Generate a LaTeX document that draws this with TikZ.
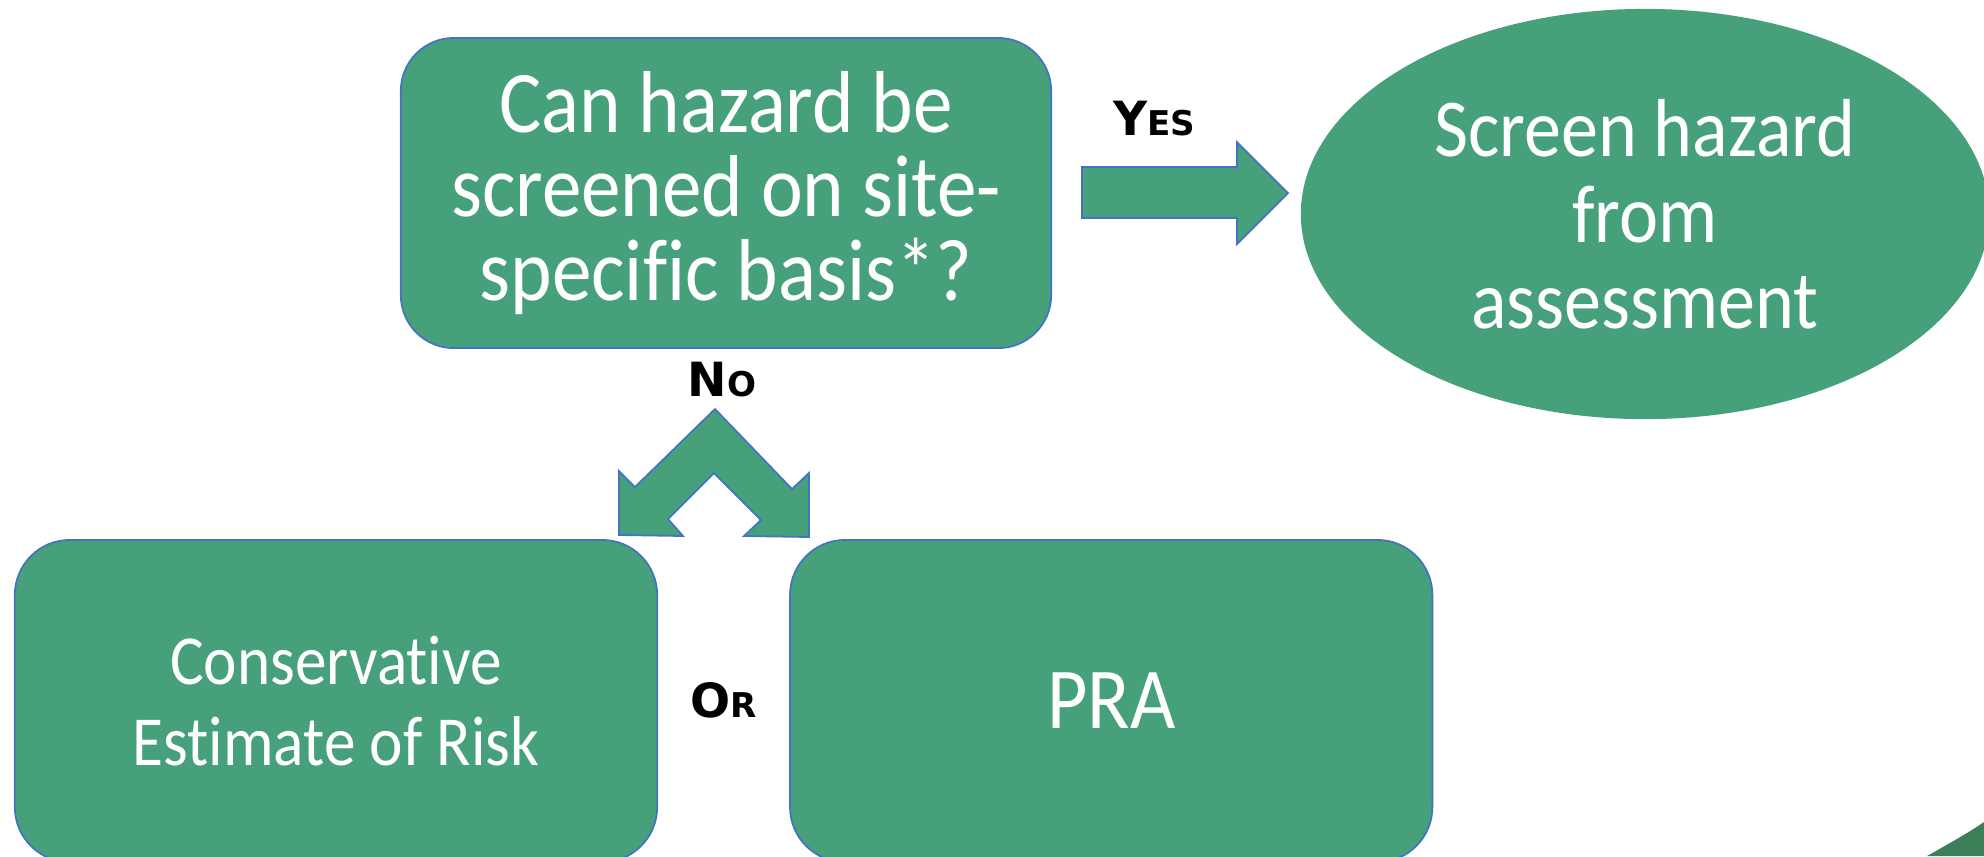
\documentclass[tikz,border=0pt]{standalone}
\usepackage{fontspec}
\setmainfont[FakeStretch=0.9,Ligatures={NoCommon,NoRare,NoContextual}]{Carlito}
\newfontfamily\lblfont{DejaVu Sans}
\usetikzlibrary{shapes.geometric,positioning}
\definecolor{boxgreen}{HTML}{46A17B}
\definecolor{edgeblue}{HTML}{4472C4}
\definecolor{cornergreen}{HTML}{3A7F57}
% big capital + small capitals
\newcommand{\fakesc}[2]{{\fontsize{13.4}{14}\selectfont #1}{\fontsize{9.7}{10}\selectfont #2}}

\begin{document}
\begin{tikzpicture}[x=0.01cm,y=-0.01cm,
      box_q/.style={
         rectangle,
         rounded corners=0.53cm,
         draw=edgeblue,
         fill=boxgreen,
         line width=0.5pt,
         text=white,
         align=center,
         inner sep=0pt,
         minimum width=6.5cm,
         minimum height=3.1cm,
         font=\fontsize{25}{24}\selectfont},
      box_opt/.style={
         box_q,
         rounded corners=0.55cm,
         minimum width=6.42cm,
         minimum height=3.22cm,
         font=\fontsize{20}{22.8}\selectfont},
      ell_end/.style={
         ellipse,
         fill=boxgreen,
         text=white,
         align=center,
         inner sep=0pt,
         minimum width=6.88cm,
         minimum height=4.1cm,
         font=\fontsize{23.4}{24.5}\selectfont},
      lbl_sc/.style={
         anchor=base,
         inner sep=0pt,
         font=\lblfont\bfseries},
      blk_arrow/.style={
         draw=edgeblue,
         fill=boxgreen,
         line width=0.5pt,
         line join=miter}
]
      \useasboundingbox (0,0) rectangle (1984,856);

      % corner of a shape outside the page
      \fill[cornergreen] (1927,856) .. controls (1950,843) and (1968,833) .. (1984,822) -- (1984,856) -- cycle;

      %question
      \node[box_q] (q) at (726,193) {Can hazard be\\screened on site-\\specific basis*?};
      \node[ell_end] (scr) at (1645,214) {Screen hazard\\from\\assessment};

      %options
      \node[box_opt] (cons) at (336,701) {Conservative\\Estimate of Risk};
      \node[box_opt,right=1.31cm of cons,font=\fontsize{24.7}{26}\selectfont] (pra) {PRA};

      % block arrows
      \draw[blk_arrow] (1082,167) -- (1237,167) -- (1237,142) -- (1288,193)
        -- (1237,244) -- (1237,218) -- (1082,218) -- cycle;
      \draw[blk_arrow] (715,409) -- (792,489) -- (809,473) -- (809,537) -- (744,536)
        -- (761,520) -- (714,473) -- (668,519) -- (683,536) -- (619,535)
        -- (619,471) -- (635,487) -- cycle;

      \node[lbl_sc] (yes) at (1154,135) {\fakesc{Y}{ES}};
      \node[lbl_sc] (no) at (722,396) {\fakesc{N}{O}};
      \node[lbl_sc] (or) at (724,717) {\fakesc{O}{R}};

\end{tikzpicture}
\end{document}
